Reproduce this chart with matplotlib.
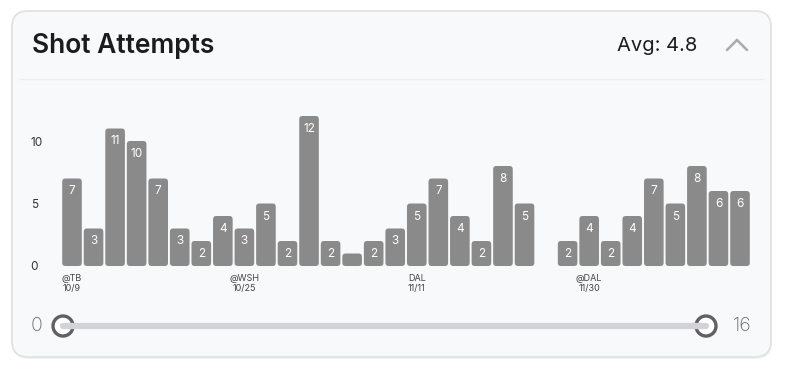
import numpy as np
import matplotlib.pyplot as plt
from matplotlib.patches import FancyBboxPatch, Circle

plt.rcParams['font.family'] = ['Inter', 'DejaVu Sans']

# shot attempts per game (nan = no game in that slot)
shots = [7, 3, 11, 10, 7, 3, 2, 4, 3, 5, 2, 12, 2, 1, 2, 3, 5, 7, 4, 2, 8, 5,
         np.nan, 2, 4, 2, 4, 7, 5, 8, 6, 6]
tick_idx = [0, 8, 16, 24]
tick_labels = ['@TB\n10/9', '@WSH\n10/25', 'DAL\n11/11', '@DAL\n11/30']
y_ticks = [0, 5, 10]
avg_text = 'Avg: 4.8'
slider_min, slider_max = 0, 16

W, H = 792, 374
fig = plt.figure(figsize=(W / 100, H / 100), dpi=100)
fig.patch.set_facecolor('white')

# background layer in pixel coordinates
bg = fig.add_axes([0, 0, 1, 1])
bg.set_xlim(0, W)
bg.set_ylim(H, 0)
bg.axis('off')

# card + faint shadow
bg.add_patch(FancyBboxPatch((13, 13), 759, 346, boxstyle='round,pad=0,rounding_size=16',
                            fc='#ececee', ec='none', alpha=0.6))
bg.add_patch(FancyBboxPatch((12, 11), 759, 346, boxstyle='round,pad=0,rounding_size=16',
                            fc='#f8f9fb', ec='#e2e2e5', lw=1.3))
bg.plot([20, 763], [79, 79], color='#ededf0', lw=1)

bg.text(32, 46, 'Shot Attempts', fontsize=19, fontweight='semibold', color='#1c1c1e',
        va='center', ha='left')
bg.text(697, 46, avg_text, fontsize=14.5, color='#1c1c1e', va='center', ha='right')
bg.plot([727, 737, 747], [50, 40, 50], color='#ababaf', lw=1.8, solid_capstyle='round',
        solid_joinstyle='miter')

# range slider
sx0, sx1, sy = 63, 706, 326
bg.plot([sx0, sx1], [sy, sy], color='#d2d2d8', lw=4.5, solid_capstyle='round')
for cx in (sx0, sx1):
    bg.add_patch(Circle((cx + 0.8, sy + 1.5), 10.5, fc='#d8d8dc', ec='none', alpha=0.5))
    bg.add_patch(Circle((cx, sy), 10, fc='white', ec='#5f5f64', lw=2.4))
bg.text(42, sy, str(slider_min), fontsize=14, fontweight='light', color='#6a6a6f',
        ha='right', va='center')
bg.text(733, sy, str(slider_max), fontsize=14, fontweight='light', color='#6a6a6f',
        ha='left', va='center')

# bar chart
n = len(shots)
slot = (730 - 62) / (n - 1)
left_px = 72 - slot / 2
right_px = 740 + slot / 2
ymax = 13
unit = 12.5
base_px = 266
top_px = base_px - ymax * unit
ax = fig.add_axes([left_px / W, (H - base_px) / H, (right_px - left_px) / W,
                   (base_px - top_px) / H])
ax.patch.set_alpha(0)
ax.set_xlim(-0.5, n - 0.5)
ax.set_ylim(0, ymax)

x = np.arange(n)
bars = ax.bar(x, shots, width=0.91, color='#8a8a8a')
# swap rectangles for rounded ones
aspect = (1 / unit) / (1 / slot)
for b, v in zip(bars, shots):
    b.set_visible(False)
    if np.isnan(v):
        continue
    ax.add_patch(FancyBboxPatch((b.get_x(), 0), b.get_width(), v,
                                boxstyle='round,pad=0,rounding_size=0.15',
                                mutation_aspect=aspect, fc='#8a8a8a', ec='none'))
    if v >= 2:
        ax.annotate(f'{int(v)}', (b.get_x() + b.get_width() / 2, v), xytext=(0, -13),
                    textcoords='offset pixels', ha='center', va='center',
                    fontsize=8.5, color='white')

for s in ax.spines.values():
    s.set_visible(False)
ax.set_yticks(y_ticks)
ax.set_yticklabels([str(t) for t in y_ticks], ha='left')
ax.tick_params(axis='y', length=0, pad=22, labelsize=8.5, labelcolor='#333333')
ax.set_xticks(tick_idx)
ax.set_xticklabels(tick_labels, fontsize=6.5, color='#444444', linespacing=1.05)
ax.tick_params(axis='x', length=0, pad=6)

fig.savefig('out.png', dpi=100)
